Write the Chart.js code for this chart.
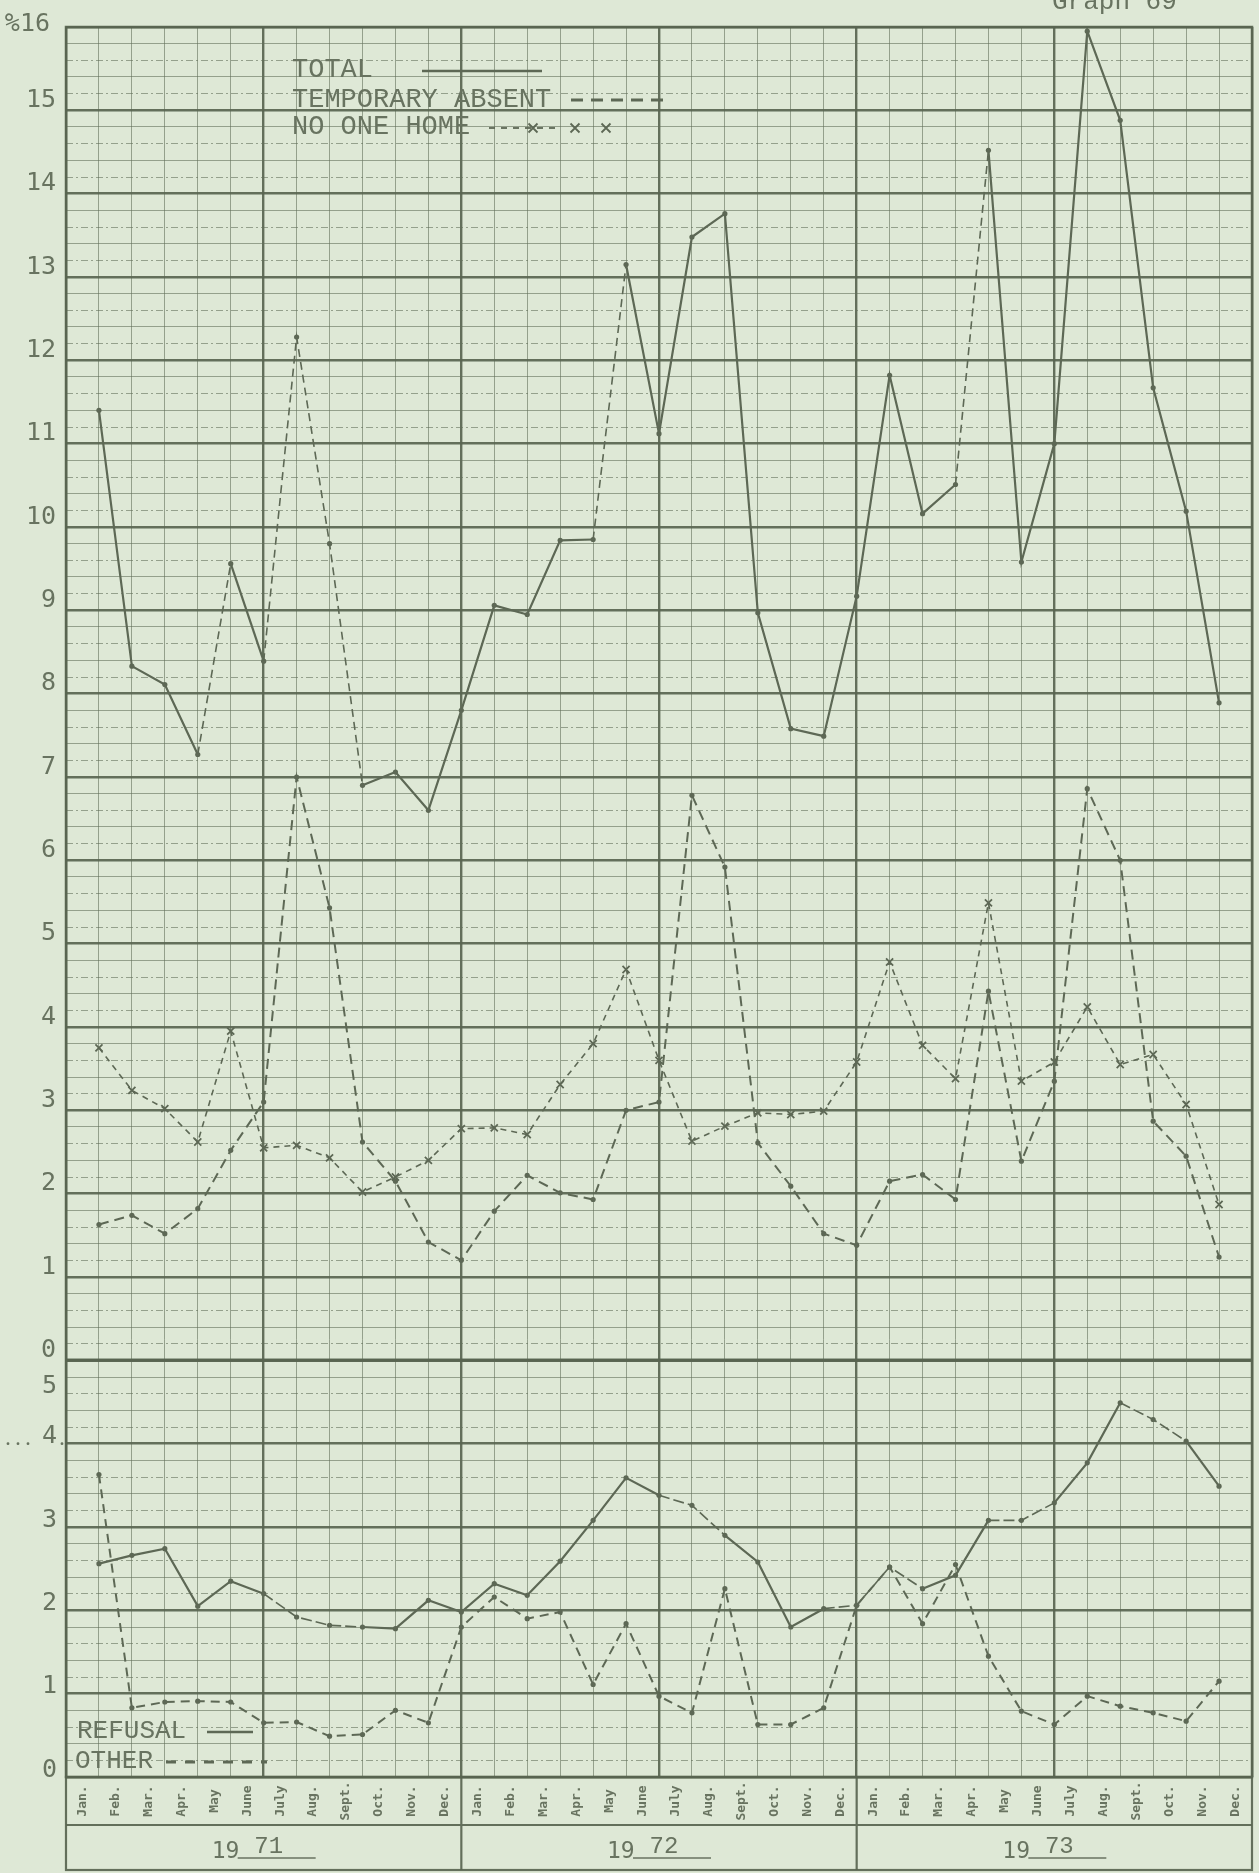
<!DOCTYPE html>
<html>
<head>
<meta charset="utf-8">
<title>Graph 69</title>
<script src="https://cdn.jsdelivr.net/npm/chart.js@4.4.1/dist/chart.umd.min.js"></script>
<style>
  html, body { margin: 0; padding: 0; background: #dee8d6; }
  #wrap { position: relative; width: 1259px; height: 1873px; }
</style>
</head>
<body>
<div id="wrap"><canvas id="graph"></canvas></div>
<script>
// month columns along the bottom strip, three years of twelve
const months = ["Jan.", "Feb.", "Mar.", "Apr.", "May", "June", "July", "Aug.", "Sept.", "Oct.", "Nov.", "Dec."];
const years = ["71", "72", "73"];

// percent, one value per ruled line between the month columns (35 lines)
const total = [
  11.4, 8.33, 8.11, 7.27, 9.56, 8.39, 12.28, 9.8, 6.9, 7.06, 6.6, 7.8,
  9.06, 8.95, 9.84, 9.85, 13.15, 11.12, 13.48, 13.76, 8.97, 7.58, 7.49, 9.17,
  11.82, 10.16, 10.51, 14.52, 9.58, 11.0, 15.95, 14.88, 11.67, 10.19, 7.89
];
const tempAbsent = [
  1.63, 1.74, 1.52, 1.82, 2.52, 3.1, 7.0, 5.43, 2.62, 2.15, 1.42, 1.2,
  1.79, 2.22, 2.01, 1.93, 3.0, 3.1, 6.78, 5.92, 2.61, 2.09, 1.52, 1.38,
  2.15, 2.23, 1.93, 4.43, 2.39, 3.35, 6.86, 6.0, 2.87, 2.45, 1.24
];
const noOneHome = [
  3.75, 3.24, 3.02, 2.62, 3.95, 2.55, 2.58, 2.43, 2.02, 2.2, 2.4, 2.78,
  2.79, 2.71, 3.31, 3.8, 4.69, 3.6, 2.63, 2.81, 2.97, 2.95, 2.99, 3.58,
  4.78, 3.78, 3.38, 5.49, 3.35, 3.58, 4.24, 3.55, 3.67, 3.07, 1.87
];
const refusal = [
  2.56, 2.66, 2.74, 2.05, 2.35, 2.2, 1.92, 1.82, 1.8, 1.78, 2.12, 1.98,
  2.32, 2.18, 2.59, 3.08, 3.59, 3.38, 3.26, 2.9, 2.58, 1.8, 2.02, 2.06,
  2.52, 2.26, 2.42, 3.08, 3.08, 3.29, 3.77, 4.49, 4.29, 4.03, 3.49
];
const other = [
  3.63, 0.83, 0.9, 0.91, 0.9, 0.65, 0.66, 0.49, 0.51, 0.8, 0.65, 1.8,
  2.16, 1.9, 1.98, 1.11, 1.84, 0.97, 0.77, 2.26, 0.63, 0.63, 0.83, 2.06,
  2.52, 1.84, 2.55, 1.45, 0.79, 0.63, 0.97, 0.85, 0.77, 0.67, 1.15
];

// axis numbers for the two panels
const topTicks = [16, 15, 14, 13, 12, 11, 10, 9, 8, 7, 6, 5, 4, 3, 2, 1, 0];
const bottomTicks = [5, 4, 3, 2, 1, 0];

// segments that were inked as broken strokes
const totalBroken = new Set([3, 5, 6, 7, 15, 26]);
const refusalBroken = new Set([5, 6, 7, 17, 18, 22, 23, 24, 27, 28, 31, 32]);

const paper = "#dee8d6";
const ink = "#5d6855";
const textInk = "#687360";
const gridMinor = "rgba(98, 111, 90, 0.6)";
const gridMajor = "rgba(88, 100, 80, 0.92)";

const isWhole = (v) => Math.abs(v - Math.round(v)) < 1e-6;
const toPoints = (values) => values.map((v, i) => ({ x: i + 1, y: v }));

function ruled(majorEvery) {
  return {
    drawTicks: false,
    color: (c) => (c.tick && isWhole(c.tick.value / majorEvery) ? gridMajor : gridMinor),
    lineWidth: (c) => (c.tick && isWhole(c.tick.value / majorEvery) ? 2.4 : 1)
  };
}

// every other fifth-line on the paper is a dash-dot rule
const dashDot = (c) => {
  if (!c.tick) return [];
  const k = Math.round(c.tick.value * 5) % 5;
  return k === 1 || k === 3 ? [7, 3, 2, 3] : [];
};

function panelAxis(max, weight) {
  return {
    type: "linear",
    position: "left",
    stack: "panels",
    stackWeight: weight,
    min: 0,
    max: max,
    ticks: { display: false, stepSize: 0.2 },
    grid: ruled(1),
    border: { display: false, dash: dashDot }
  };
}

const paperPlugin = {
  id: "paper",
  beforeDraw(chart) {
    const ctx = chart.ctx;
    ctx.save();
    ctx.fillStyle = paper;
    ctx.fillRect(0, 0, chart.width, chart.height);
    ctx.restore();
  }
};

function cross(ctx, x, y, r) {
  ctx.beginPath();
  ctx.moveTo(x - r, y - r); ctx.lineTo(x + r, y + r);
  ctx.moveTo(x - r, y + r); ctx.lineTo(x + r, y - r);
  ctx.stroke();
}

const notesPlugin = {
  id: "notes",
  afterDraw(chart) {
    const ctx = chart.ctx;
    const { left, right, top, bottom } = chart.chartArea;
    const xs = chart.scales.x;
    const yTop = chart.scales.yTop;
    const yBottom = chart.scales.yBottom;
    const stripBottom = 1825;
    const boxBottom = 1870;

    ctx.save();
    ctx.strokeStyle = gridMajor;
    ctx.lineWidth = 2.5;
    ctx.strokeRect(left, top, right - left, bottom - top);

    // seam between the two panels
    const seam = yTop.getPixelForValue(0);
    ctx.lineWidth = 3.5;
    ctx.beginPath();
    ctx.moveTo(left, seam); ctx.lineTo(right, seam);
    ctx.stroke();

    // month strip and year boxes
    ctx.lineWidth = 2.2;
    ctx.strokeRect(left, bottom, right - left, boxBottom - bottom);
    ctx.beginPath();
    ctx.moveTo(left, stripBottom); ctx.lineTo(right, stripBottom);
    [12, 24].forEach((m) => {
      const x = xs.getPixelForValue(m);
      ctx.moveTo(x, bottom); ctx.lineTo(x, boxBottom);
    });
    ctx.stroke();

    ctx.fillStyle = textInk;
    ctx.font = 'bold 13px "DejaVu Sans Mono"';
    ctx.textAlign = "center";
    ctx.textBaseline = "middle";
    for (let i = 0; i < 36; i++) {
      const x = xs.getPixelForValue(i + 0.5);
      ctx.save();
      ctx.translate(x, 1801);
      ctx.rotate(-Math.PI / 2);
      ctx.fillText(months[i % 12], 0, 0);
      ctx.restore();
    }

    years.forEach((yr, j) => {
      const c = (xs.getPixelForValue(12 * j) + xs.getPixelForValue(12 * j + 12)) / 2;
      ctx.font = '23px "DejaVu Sans Mono"';
      ctx.textAlign = "left";
      ctx.textBaseline = "alphabetic";
      ctx.fillText("19", c - 52, 1858);
      ctx.font = '24px "Liberation Mono"';
      ctx.textAlign = "center";
      ctx.fillText(yr, c + 5, 1853);
      ctx.lineWidth = 1.5;
      ctx.strokeStyle = textInk;
      ctx.beginPath();
      ctx.moveTo(c - 26, 1858); ctx.lineTo(c + 52, 1858);
      ctx.stroke();
    });

    // axis numbers
    ctx.font = '25px "DejaVu Sans Mono"';
    ctx.textAlign = "right";
    ctx.textBaseline = "middle";
    topTicks.forEach((v) => {
      const y = yTop.getPixelForValue(v);
      if (v === 16) {
        ctx.fillText("%16", 50, y - 3);
      } else {
        ctx.fillText(String(v), 56, y - 10);
      }
    });
    bottomTicks.forEach((v) => {
      const y = yBottom.getPixelForValue(v);
      ctx.fillText(String(v), 57, v === 5 ? y + 26 : y - 7);
    });
    [8, 18, 28, 62].forEach((x) => {
      ctx.beginPath();
      ctx.arc(x, yBottom.getPixelForValue(4), 1.4, 0, Math.PI * 2);
      ctx.fill();
    });

    // typed key, upper panel
    ctx.font = '27px "Liberation Mono"';
    ctx.textAlign = "left";
    ctx.textBaseline = "alphabetic";
    ctx.fillText("TOTAL", 292, 77);
    ctx.fillText("TEMPORARY ABSENT", 292, 107);
    ctx.fillText("NO ONE HOME", 292, 134);

    ctx.strokeStyle = ink;
    ctx.lineWidth = 2.5;
    ctx.beginPath();
    ctx.moveTo(422, 71); ctx.lineTo(542, 71);
    ctx.stroke();

    ctx.lineWidth = 3;
    ctx.setLineDash([12, 8]);
    ctx.beginPath();
    ctx.moveTo(571, 100); ctx.lineTo(670, 100);
    ctx.stroke();

    ctx.lineWidth = 1.8;
    ctx.setLineDash([6, 6]);
    ctx.beginPath();
    ctx.moveTo(489, 128); ctx.lineTo(560, 128);
    ctx.stroke();
    ctx.setLineDash([]);
    [533, 575, 606].forEach((x) => cross(ctx, x, 128, 4.5));

    // typed key, lower panel
    ctx.font = '26px "Liberation Mono"';
    ctx.fillText("REFUSAL", 77, 1738);
    ctx.fillText("OTHER", 75, 1768);
    ctx.lineWidth = 2.5;
    ctx.beginPath();
    ctx.moveTo(207, 1732); ctx.lineTo(253, 1732);
    ctx.stroke();
    ctx.lineWidth = 3;
    ctx.setLineDash([10, 9]);
    ctx.beginPath();
    ctx.moveTo(166, 1762); ctx.lineTo(267, 1762);
    ctx.stroke();
    ctx.setLineDash([]);

    // sheet number, cut by the top edge
    ctx.font = '26px "Liberation Mono"';
    ctx.fillText("Graph 69", 1052, 9);
    ctx.restore();
  }
};

const dot = { pointRadius: 2.6, pointHoverRadius: 2.6, pointBorderWidth: 0 };

new Chart(document.getElementById("graph"), {
  type: "line",
  data: {
    datasets: [
      {
        label: "TOTAL",
        data: toPoints(total),
        yAxisID: "yTop",
        borderColor: ink,
        backgroundColor: ink,
        borderWidth: 2.2,
        ...dot,
        segment: {
          borderDash: (s) => (totalBroken.has(s.p0DataIndex) ? [8, 5] : undefined),
          borderWidth: (s) => (totalBroken.has(s.p0DataIndex) ? 1.6 : undefined)
        }
      },
      {
        label: "TEMPORARY ABSENT",
        data: toPoints(tempAbsent),
        yAxisID: "yTop",
        borderColor: ink,
        backgroundColor: ink,
        borderWidth: 2,
        borderDash: [10, 6],
        ...dot
      },
      {
        label: "NO ONE HOME",
        data: toPoints(noOneHome),
        yAxisID: "yTop",
        borderColor: ink,
        backgroundColor: ink,
        borderWidth: 1.6,
        borderDash: [6, 5],
        pointStyle: "crossRot",
        pointRadius: 5,
        pointHoverRadius: 5,
        pointBorderWidth: 1.8
      },
      {
        label: "REFUSAL",
        data: toPoints(refusal),
        yAxisID: "yBottom",
        borderColor: ink,
        backgroundColor: ink,
        borderWidth: 2.2,
        ...dot,
        segment: {
          borderDash: (s) => (refusalBroken.has(s.p0DataIndex) ? [11, 4] : undefined),
          borderWidth: (s) => (refusalBroken.has(s.p0DataIndex) ? 1.6 : undefined)
        }
      },
      {
        label: "OTHER",
        data: toPoints(other),
        yAxisID: "yBottom",
        borderColor: ink,
        backgroundColor: ink,
        borderWidth: 2,
        borderDash: [9, 6],
        ...dot
      }
    ]
  },
  options: {
    responsive: true,
    maintainAspectRatio: false,
    devicePixelRatio: 1,
    animation: false,
    events: [],
    layout: { padding: { left: 66, right: 7, top: 27, bottom: 96 } },
    plugins: {
      legend: { display: false },
      tooltip: { enabled: false }
    },
    scales: {
      x: {
        type: "linear",
        min: 0,
        max: 36,
        ticks: { display: false, stepSize: 1 },
        grid: ruled(6),
        border: { display: false }
      },
      yBottom: panelAxis(5, 5),
      yTop: panelAxis(16, 16)
    }
  },
  plugins: [paperPlugin, notesPlugin]
});
</script>
</body>
</html>
